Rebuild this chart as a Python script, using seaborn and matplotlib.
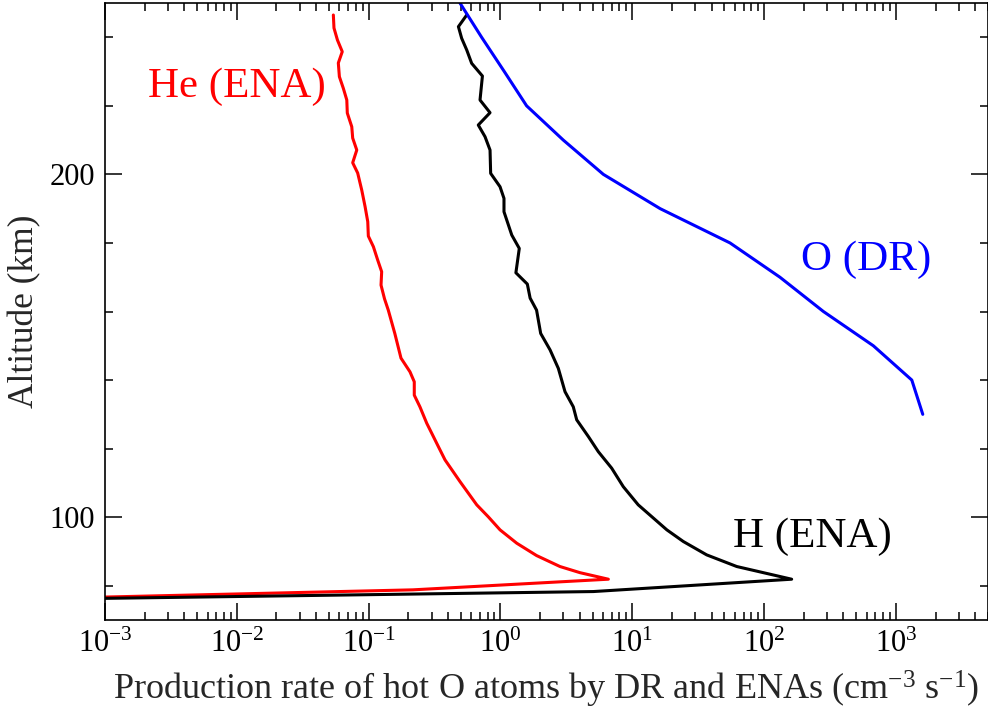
# Hot O production rates: DR and ENA sources vs altitude

import numpy as np
import matplotlib
matplotlib.use("Agg")
import matplotlib.pyplot as plt
import seaborn as sns
from matplotlib.ticker import MultipleLocator, LogLocator, NullFormatter

# He (ENA) profile (top to bottom, then the low leg)
he_alt = [246.5, 242.7, 239.2, 235.8, 232.5, 228.5, 225.1, 221.7, 217.9, 213.9,
          210.6, 207.1, 203.4, 200.4, 195.4, 190.6, 186.2, 182.0, 178.9, 175.0,
          171.6, 167.7, 163.7, 160.4, 153.6, 146.4, 142.4, 139.5, 135.6, 132.2,
          127.4, 124.5, 120.6, 116.7, 110.4, 103.6, 100.1, 96.3, 92.4, 88.8,
          85.6, 83.8, 81.9, 78.8, 75.0]
he_rate = [0.0540, 0.0546, 0.0580, 0.0631, 0.0589, 0.0600, 0.0643, 0.0683, 0.0689, 0.0745,
           0.0757, 0.0813, 0.0757, 0.0826, 0.0887, 0.0940, 0.0985, 0.0995, 0.1087, 0.1172,
           0.1256, 0.1242, 0.132, 0.141, 0.158, 0.176, 0.206, 0.222, 0.222, 0.245,
           0.276, 0.301, 0.338, 0.380, 0.493, 0.661, 0.809, 0.993, 1.33, 1.88,
           2.83, 4.02, 6.59, 0.217, 1.3e-5]

# H (ENA) profile
h_alt = [246.5, 243.1, 239.7, 236.3, 232.4, 228.7, 221.7, 218.0, 214.4, 211.0,
         207.1, 200.3, 196.4, 193.0, 189.1, 182.3, 178.4, 171.3, 168.0, 163.9,
         160.4, 153.6, 148.8, 143.4, 136.6, 132.2, 128.4, 123.5, 119.1, 114.3,
         108.9, 103.6, 96.3, 92.9, 89.0, 85.6, 81.9, 78.3, 75.0]
h_rate = [0.555, 0.480, 0.508, 0.555, 0.605, 0.730, 0.700, 0.834, 0.679, 0.764,
          0.834, 0.843, 0.993, 1.064, 1.064, 1.219, 1.39, 1.31, 1.60, 1.68,
          1.88, 2.02, 2.38, 2.75, 3.09, 3.57, 3.79, 4.65, 5.53, 6.98,
          8.55, 11.1, 18.3, 24.4, 36.7, 62.1, 162.0, 5.07, 3.5e-6]

# O (DR) profile
o_alt = [250, 240, 230, 220, 210, 200, 190, 180, 170, 160, 150, 140, 130]
o_rate = [0.493, 0.72, 1.07, 1.58, 3.0, 6.04, 16.3, 55.2, 132, 282, 675, 1321, 1600]

sns.set_style("ticks")
plt.rcParams["font.family"] = ["Liberation Serif", "DejaVu Serif"]
plt.rcParams["mathtext.fontset"] = "custom"
plt.rcParams["mathtext.rm"] = "Liberation Serif"
plt.rcParams["mathtext.it"] = "Liberation Serif:italic"
plt.rcParams["mathtext.bf"] = "Liberation Serif:bold"
plt.rcParams["axes.unicode_minus"] = False

fig = plt.figure(figsize=(9.88, 7.24), dpi=100)
ax = fig.add_axes([105 / 988, 1 - 620 / 724, 883 / 988, 617 / 724])

sns.lineplot(x=he_rate, y=he_alt, sort=False, estimator=None, color="#ff0000", lw=2.2, ax=ax)
sns.lineplot(x=h_rate, y=h_alt, sort=False, estimator=None, color="black", lw=2.2, ax=ax)
sns.lineplot(x=o_rate, y=o_alt, sort=False, estimator=None, color="#0000ff", lw=2.2, ax=ax)

ax.set_xscale("log")
ax.set_xlim(1e-3, 10 ** 3.699)
ax.set_ylim(70, 250)

ax.xaxis.set_major_locator(LogLocator(base=10, numticks=20))
ax.xaxis.set_minor_locator(LogLocator(base=10, subs=np.arange(2, 10), numticks=20))
ax.xaxis.set_minor_formatter(NullFormatter())
ax.yaxis.set_major_locator(MultipleLocator(100))
ax.yaxis.set_minor_locator(MultipleLocator(20))

ax.tick_params(which="both", direction="in", top=True, right=True, width=1.1, colors="black")
ax.tick_params(which="major", length=12, labelsize=22, pad=7)
ax.tick_params(which="minor", length=6)
for sp in ax.spines.values():
    sp.set_linewidth(1.2)
    sp.set_color("black")

ax.set_xlabel(r"Production rate of hot O atoms by DR and ENAs (cm$^{-3}$ s$^{-1}$)", fontsize=26, labelpad=7)
ax.set_ylabel("Altitude (km)", fontsize=25.5, labelpad=6)

# curve labels
ax.text(0.01, 225.5, "He (ENA)", color="#ff0000", fontsize=31, ha="center", va="center")
ax.text(594, 175.0, "O (DR)", color="#0000ff", fontsize=31, ha="center", va="center")
ax.text(231, 94.2, "H (ENA)", color="black", fontsize=31, ha="center", va="center")

fig.savefig("out.png", dpi=100)
